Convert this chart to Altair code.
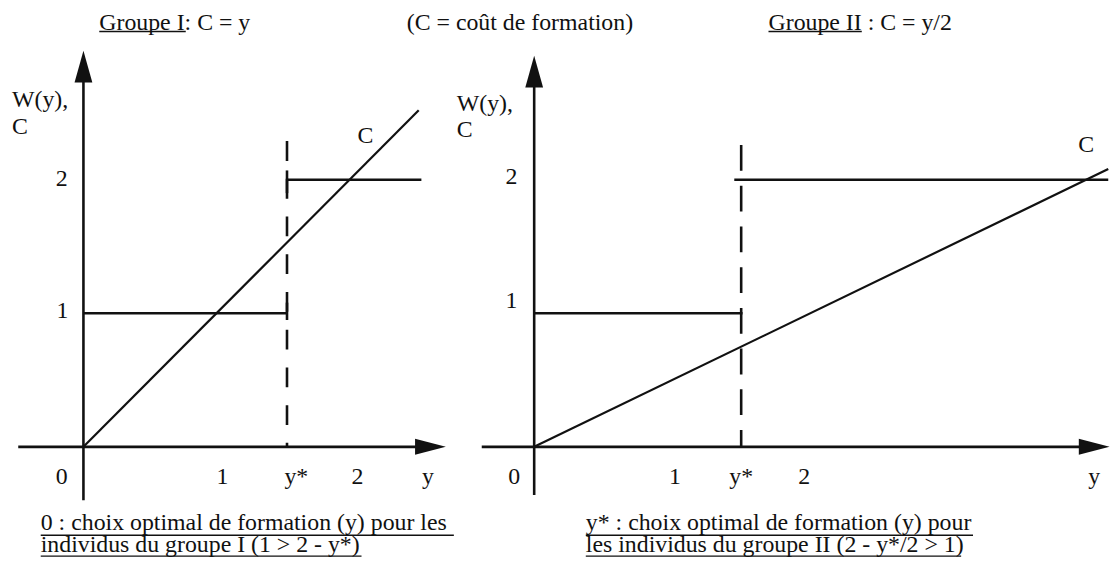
import altair as alt
import pandas as pd

FONT = "Liberation Serif"
FS = 24
INK = "#111111"

# ---------------- Panel I : C = y ----------------
p1_ystar = 1.53
p1_w_levels = [1, 2]
p1_c_end = 2.52
p1_w2_end = 2.54
p1_dash_top = 2.29
p1_xaxis = [-0.49, 2.50]
p1_yaxis = [-0.40, 2.75]
p1_arrow_up = [0, 2.848]
p1_arrow_right = [2.608, 0]
p1_xdomain = [-0.567, 2.955]

# ---------------- Panel II : C = y/2 ----------------
p2_ystar = 1.50
p2_w_levels = [1, 2]
p2_c_end = 4.16
p2_w1_end = 1.51
p2_w2_start = 1.45
p2_w2_end = 4.16
p2_dash_top = 2.26
p2_xaxis = [-0.38, 3.97]
p2_yaxis = [-0.36, 2.70]
p2_arrow_up = [0, 2.81]
p2_arrow_right = [4.058, 0]
p2_xdomain = [-0.4173, 4.1727]

ydomain = [-0.8773, 3.2639]

# texts: (text, x, y)
p1_center_text = [("0", -0.164, -0.223), ("1", 1.045, -0.223), ("y*", 1.60, -0.223),
                  ("2", 2.06, -0.223), ("y", 2.59, -0.223), ("2", -0.164, 2.007),
                  ("1", -0.157, 1.02), ("C", 2.12, 2.327)]
p1_left_text = [("W(y),", -0.537, 2.595), ("C", -0.537, 2.394),
                ("Groupe I: C = y", 0.119, 3.175),
                ("(C = coût de formation)", 2.43, 3.175),
                ("0 : choix optimal de formation (y) pour les", -0.321, -0.5725),
                ("individus du groupe I (1 > 2 - y*)", -0.321, -0.736)]
p1_underlines = [(0.119, 0.769, 3.11), (-0.321, 2.784, -0.662), (-0.321, 2.09, -0.818)]

p2_center_text = [("0", -0.144, -0.223), ("1", 1.02, -0.223), ("y*", 1.50, -0.223),
                  ("2", 1.957, -0.223), ("y", 4.058, -0.223), ("2", -0.165, 2.02),
                  ("1", -0.165, 1.09), ("C", 4.0, 2.26)]
p2_left_text = [("W(y),", -0.561, 2.565), ("C", -0.561, 2.372),
                ("Groupe II : C = y/2", 1.698, 3.175),
                ("y* : choix optimal de formation (y) pour", 0.374, -0.5725),
                ("les individus du groupe II (2 - y*/2 > 1)", 0.374, -0.736)]
p2_underlines = [(1.698, 2.374, 3.11), (0.374, 3.18, -0.662), (0.374, 3.094, -0.818)]

UP = "M0,-1L0.56,1L-0.56,1Z"
RIGHT = "M1,0L-1,0.52L-1,-0.52Z"


def seg(x, y, x2, y2, w):
    return {"x": x, "y": y, "x2": x2, "y2": y2, "w": w}


def panel(xdomain, width, solid, dashed, dash, arrows_up, arrows_right,
          center_text, left_text, underlines):
    xs = alt.Scale(domain=xdomain, nice=False, zero=False)
    ys = alt.Scale(domain=ydomain, nice=False, zero=False)
    X = lambda f: alt.X(f, type="quantitative", scale=xs, axis=None)
    Y = lambda f: alt.Y(f, type="quantitative", scale=ys, axis=None)

    sol = alt.Chart(pd.DataFrame(solid)).mark_rule(color=INK, strokeCap="butt").encode(
        x=X("x"), y=Y("y"), x2="x2", y2="y2",
        strokeWidth=alt.StrokeWidth("w:Q", scale=None))
    das = alt.Chart(pd.DataFrame(dashed)).mark_rule(color=INK, strokeDash=dash,
                                                    strokeWidth=2.6, strokeCap="butt").encode(
        x=X("x"), y=Y("y"), x2="x2", y2="y2")
    up = alt.Chart(pd.DataFrame([{"x": a[0], "y": a[1]} for a in arrows_up])).mark_point(
        shape=UP, filled=True, size=1024, color=INK, opacity=1, strokeWidth=0).encode(
        x=X("x"), y=Y("y"))
    rt = alt.Chart(pd.DataFrame([{"x": a[0], "y": a[1]} for a in arrows_right])).mark_point(
        shape=RIGHT, filled=True, size=961, color=INK, opacity=1, strokeWidth=0).encode(
        x=X("x"), y=Y("y"))
    ct = alt.Chart(pd.DataFrame(center_text, columns=["t", "x", "y"])).mark_text(
        font=FONT, fontSize=FS, color=INK, align="center", baseline="middle").encode(
        x=X("x"), y=Y("y"), text="t")
    lt = alt.Chart(pd.DataFrame(left_text, columns=["t", "x", "y"])).mark_text(
        font=FONT, fontSize=FS, color=INK, align="left", baseline="middle").encode(
        x=X("x"), y=Y("y"), text="t")
    ul = alt.Chart(pd.DataFrame(underlines, columns=["x", "x2", "y"])).mark_rule(
        color=INK, strokeWidth=1.4).encode(x=X("x"), x2="x2", y=Y("y"))
    return alt.layer(sol, das, up, rt, ct, lt, ul).properties(width=width, height=557)


p1_solid = [
    seg(0, p1_yaxis[0], 0, p1_yaxis[1], 2.6),
    seg(p1_xaxis[0], 0, p1_xaxis[1], 0, 2.6),
    seg(0, 0, p1_c_end, p1_c_end, 2.2),
    seg(0, p1_w_levels[0], p1_ystar, p1_w_levels[0], 2.6),
    seg(p1_ystar, p1_w_levels[1], p1_w2_end, p1_w_levels[1], 2.6),
    seg(p1_ystar, 0.95, p1_ystar, 1.08, 2.6),
    seg(p1_ystar, 1.90, p1_ystar, 2.07, 2.6),
]
p1_dashed = [seg(p1_ystar, p1_dash_top, p1_ystar, 0, 2.6)]

p2_solid = [
    seg(0, p2_yaxis[0], 0, p2_yaxis[1], 2.6),
    seg(p2_xaxis[0], 0, p2_xaxis[1], 0, 2.6),
    seg(0, 0, p2_c_end, p2_c_end / 2, 2.2),
    seg(0, p2_w_levels[0], p2_w1_end, p2_w_levels[0], 2.6),
    seg(p2_w2_start, p2_w_levels[1], p2_w2_end, p2_w_levels[1], 2.6),
]
p2_dashed = [seg(p2_ystar, p2_dash_top, p2_ystar, 0, 2.6)]

left = panel(p1_xdomain, 472, p1_solid, p1_dashed, [20, 18], [p1_arrow_up], [p1_arrow_right],
             p1_center_text, p1_left_text, p1_underlines)
right = panel(p2_xdomain, 638, p2_solid, p2_dashed, [26, 15], [p2_arrow_up], [p2_arrow_right],
              p2_center_text, p2_left_text, p2_underlines)

chart = alt.hconcat(left, right, spacing=0, bounds="flush").properties(
    padding=0
).configure_view(strokeWidth=0)

chart.save("out.html", embed_options={"renderer": "svg", "actions": False})
